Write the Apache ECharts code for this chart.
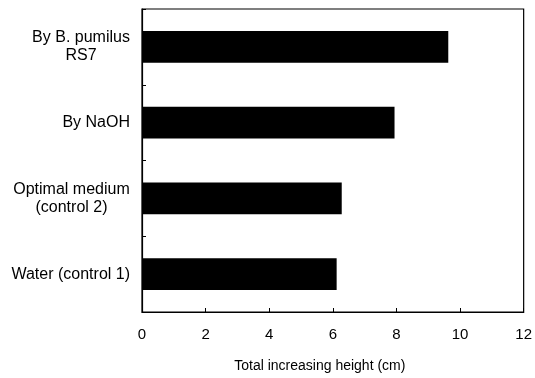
<!DOCTYPE html>
<html>
<head>
<meta charset="utf-8">
<script src="https://cdn.jsdelivr.net/npm/echarts@6/dist/echarts.min.js"></script>
<style>
html,body{margin:0;padding:0;background:#fff;}
#chart{width:535px;height:378px;}
</style>
</head>
<body>
<div id="chart"></div>
<script>
// Data (top to bottom)
var categories = ["By B. pumilus\nRS7", "By NaOH", "Optimal medium\n(control 2)", "Water (control 1)"];
var heights = [9.63, 7.94, 6.28, 6.12];
var xTicks = { min: 0, max: 12, interval: 2 };
var xTitle = "Total increasing height (cm)";

var FONT = "'Liberation Sans', Arial, sans-serif";
var LABEL_SIZE = 16;
var LINE_H = 18;

var ctx = document.createElement('canvas').getContext('2d');
ctx.font = LABEL_SIZE + 'px ' + FONT;

// rich styles so that lines of a multi-line label are centred on each other
var rich = {};
var labelKey = {};
categories.forEach(function (cat, i) {
  var lines = cat.split('\n');
  if (lines.length > 1) {
    var w = 0;
    lines.forEach(function (l) { w = Math.max(w, ctx.measureText(l).width); });
    rich['c' + i] = { width: Math.ceil(w), align: 'center', fontSize: LABEL_SIZE, fontFamily: FONT, color: '#000', lineHeight: LINE_H };
    labelKey[cat] = 'c' + i;
  }
});

var chart = echarts.init(document.getElementById('chart'), null, { renderer: 'canvas' });
chart.setOption({
  animation: false,
  backgroundColor: '#fff',
  grid: {
    left: 142, right: 9, top: 9, bottom: 65,
    show: true, borderColor: '#000', borderWidth: 1.2, backgroundColor: 'transparent'
  },
  xAxis: {
    type: 'value',
    min: xTicks.min, max: xTicks.max, interval: xTicks.interval,
    name: xTitle,
    nameLocation: 'middle',
    nameGap: 47,
    nameTextStyle: { color: '#000', fontSize: 14, fontFamily: FONT, padding: [0, 26, 0, 0] },
    axisLine: { show: true, lineStyle: { color: '#000', width: 1.2 } },
    axisTick: { show: true, inside: true, length: 4, lineStyle: { color: '#000' } },
    axisLabel: { color: '#000', fontSize: 15, fontFamily: FONT, margin: 15 },
    splitLine: { show: false }
  },
  yAxis: {
    type: 'category',
    inverse: true,
    data: categories,
    axisLine: { show: true, lineStyle: { color: '#000', width: 1.2 } },
    axisTick: { show: true, inside: true, length: 4, lineStyle: { color: '#000' } },
    axisLabel: {
      color: '#000', fontSize: LABEL_SIZE, fontFamily: FONT, margin: 12, lineHeight: LINE_H,
      formatter: function (v) {
        var key = labelKey[v];
        if (!key) return v;
        return v.split('\n').map(function (l) { return '{' + key + '|' + l + '}'; }).join('\n');
      },
      rich: rich
    }
  },
  series: [{
    type: 'bar',
    data: heights,
    barWidth: '42%',
    itemStyle: { color: '#000' }
  }]
});
</script>
</body>
</html>
